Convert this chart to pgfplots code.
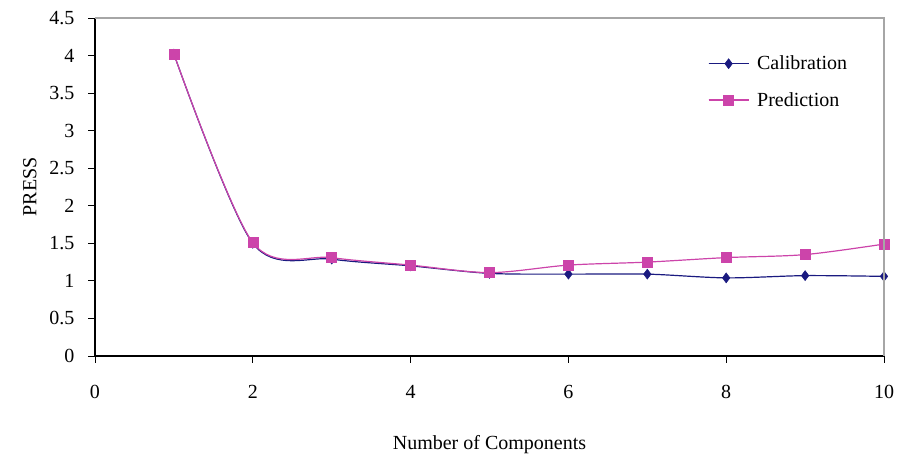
\documentclass[border=0pt]{standalone}
\usepackage{fontspec}
\setmainfont{Liberation Serif}
\usepackage{pgfplots}
\pgfplotsset{compat=1.18}
\definecolor{calib}{HTML}{1A1A80}
\definecolor{pred}{HTML}{CC44AA}
\begin{document}
\begin{tikzpicture}
\begin{axis}[
  scale only axis,
  width=789pt, height=338pt,
  xmin=0, xmax=10, ymin=0, ymax=4.5,
  xtick={0,2,4,6,8,10},
  ytick={0,0.5,1,1.5,2,2.5,3,3.5,4,4.5},
  yticklabels={0,0.5,1,1.5,2,2.5,3,3.5,4,4.5},
  xticklabels={0,2,4,6,8,10},
  tick align=outside, tick pos=left,
  major tick length=7pt,
  every tick/.style={black, line width=0.8pt},
  axis line style={draw=none},
  ticklabel style={font=\fontsize{20}{22}\selectfont},
  xticklabel style={yshift=-19pt},
  yticklabel style={xshift=-10pt},
  label style={font=\fontsize{20}{22}\selectfont},
  xlabel={Number of Components},
  xlabel style={yshift=-30pt},
  ylabel={PRESS},
  ylabel style={yshift=6pt},
  legend style={draw=none, fill=none, at={(0.773,0.9)}, anchor=north west,
    font=\fontsize{20}{22}\selectfont, row sep=17pt, column sep=6pt},
  legend cell align=left,
  legend image code/.code={
    \draw[#1] (0cm,0cm) -- (1.4cm,0cm);
    \draw[#1, mark repeat=2, mark phase=2] plot coordinates {(0cm,0cm) (0.7cm,0cm) (1.4cm,0cm)};
  },
  clip=false,
  extra description/.code={
    \draw[black, line width=1.2pt] (rel axis cs:0,1) -- (rel axis cs:0,0) -- (rel axis cs:1,0);
    \draw[gray!70, line width=1.2pt] (rel axis cs:0,1) -- (rel axis cs:1,1) -- (rel axis cs:1,0);
    \path (rel axis cs:0,0) ++(-95pt,-100pt);
    \path (rel axis cs:1,1) ++(17pt,18pt);
  },
]
\addplot[calib, line width=1.2pt, smooth, tension=0.5, mark=diamond*, mark size=5pt, mark options={fill=calib, line width=0.5pt}]
coordinates {(1,4.02) (2,1.50) (3,1.29) (4,1.20) (5,1.10) (6,1.09) (7,1.09) (8,1.04) (9,1.07) (10,1.06)};
\addlegendentry{Calibration}
\addplot[pred, line width=1.2pt, smooth, tension=0.5, mark=square*, mark size=5pt, mark options={fill=pred, line width=0.5pt}]
coordinates {(1,4.02) (2,1.51) (3,1.31) (4,1.21) (5,1.11) (6,1.21) (7,1.25) (8,1.31) (9,1.35) (10,1.49)};
\addlegendentry{Prediction}
\end{axis}
\end{tikzpicture}
\end{document}
